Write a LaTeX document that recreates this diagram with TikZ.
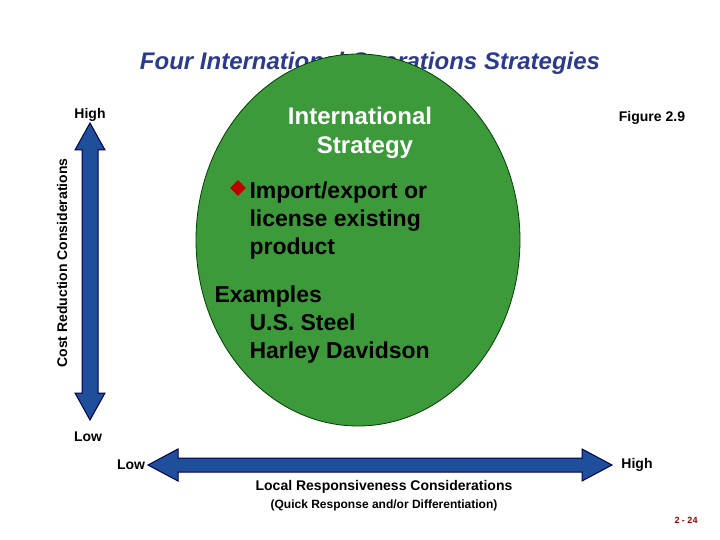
\documentclass[tikz,border=0pt]{standalone}
\usepackage{fontspec}
\setmainfont{Liberation Sans}
\usetikzlibrary{shapes.geometric}
\definecolor{arrblue}{HTML}{1F4E9A}
\definecolor{elgreen}{HTML}{3C9A3A}
\definecolor{titleblue}{HTML}{2B3A8C}
\begin{document}
\begin{tikzpicture}[x=1pt,y=-1pt,
  arr/.style={fill=arrblue, draw=blue!30!black, line width=1pt},
  lbl/.style={font=\fontsize{14}{16}\selectfont\bfseries},
  big/.style={font=\fontsize{23}{28}\selectfont\bfseries, align=left, anchor=west}]
\useasboundingbox (0,0) rectangle (720,540);
\node (title) at (370,63) {\fontsize{24}{28}\selectfont\bfseries\itshape\color{titleblue}Four International Operations Strategies};
\node (ell) [ellipse, draw=green!25!black, line width=0.8pt, fill=elgreen, minimum width=324, minimum height=372, inner sep=0] at (358,240) {};
\node (t1) at (360,116) {\fontsize{24}{28}\selectfont\bfseries\color{white}International};
\node (t2) at (365,148) {\fontsize{24}{28}\selectfont\bfseries\color{white}Strategy};
\node (dia) [diamond, fill=red!75!black, inner sep=0, minimum size=16] at (238,188) {};
\node (b1) [big] at (246,221) {Import/export or\\license existing\\product};
\node (ex) [big] at (211,325) {Examples\\\hspace{35pt}U.S. Steel\\\hspace{35pt}Harley Davidson};
% vertical arrow
\fill[arr] (90,123) -- (105,150) -- (98,150) -- (98,393) -- (105,393) -- (90,420) -- (75,393) -- (82,393) -- (82,150) -- (75,150) -- cycle;
\node (vh) [lbl] at (90,115) {High};
\node (vl) [lbl] at (88,437) {Low};
\node (vt) [lbl, rotate=90] at (62,263) {Cost Reduction Considerations};
% horizontal arrow
\fill[arr] (148,465) -- (178,449) -- (178,458) -- (582,458) -- (582,449) -- (612,465) -- (582,481) -- (582,472) -- (178,472) -- (178,481) -- cycle;
\node (hl) [lbl] at (131,465) {Low};
\node (hh) [lbl] at (637,465) {High};
\node (ht) [lbl] at (384,487) {Local Responsiveness Considerations};
\node (hs) at (384,505) {\fontsize{12}{14}\selectfont\bfseries (Quick Response and/or Differentiation)};
\node (fig) [lbl] at (652,118) {Figure 2.9};
\node (pg) at (686,520) {\fontsize{9}{10}\selectfont\bfseries\color{red!60!black}2 - 24};
\end{tikzpicture}
\end{document}
